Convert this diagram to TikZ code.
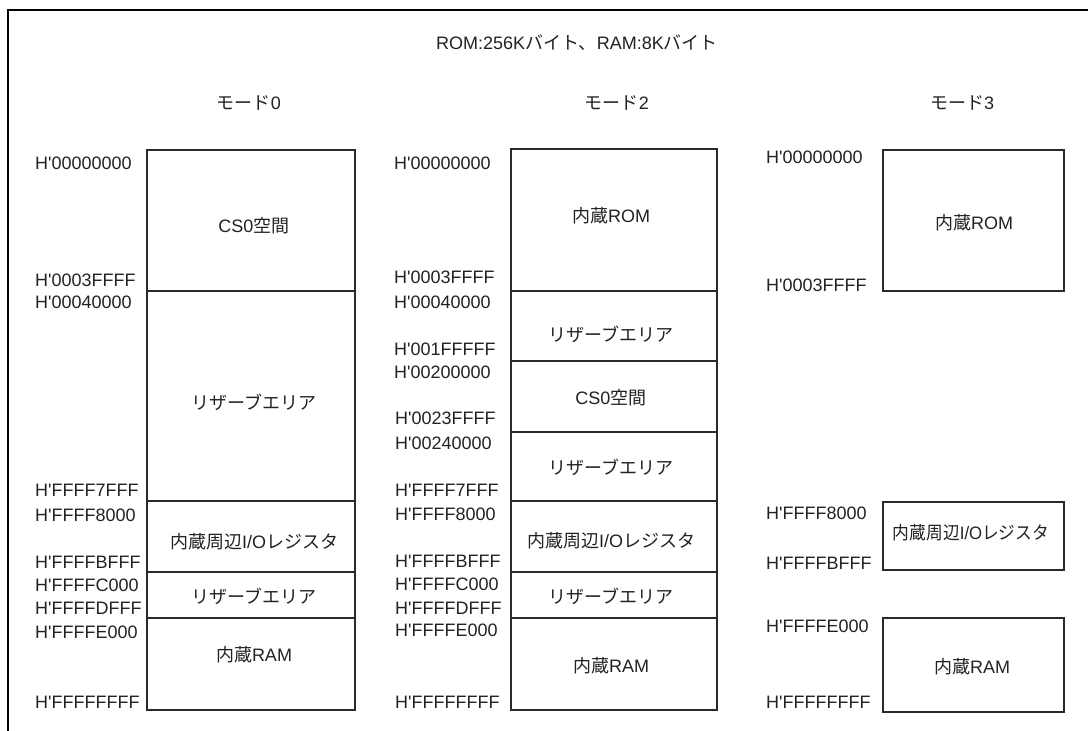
\documentclass[tikz,border=0pt]{standalone}
\usepackage{fontspec}
\usepackage{graphicx}
\setmainfont{Liberation Sans}
\newfontfamily\latinfont{Liberation Sans}
\newfontfamily\jpfont{Noto Sans CJK JP}
\newcommand{\J}[1]{{\jpfont #1}}
\definecolor{ink}{HTML}{222222}
\definecolor{edge}{HTML}{2A2A2A}
\tikzset{
  addr/.style={anchor=base west, inner sep=0pt, font=\latinfont\fontsize{18}{20}\selectfont, text=ink},
  ctext/.style={anchor=base, inner sep=0pt, font=\latinfont\fontsize{18}{20}\selectfont, text=ink},
  area/.style={draw=edge, line width=1.8pt},
  frameline/.style={draw=black, line width=2.3pt}
}
\begin{document}
\begin{tikzpicture}[x=1pt,y=-1pt]
\useasboundingbox (0,0) rectangle (1088,731);
\draw[frameline] (8,740) -- (8,10) -- (1095,10);

% titles
\node[ctext] (title) at (577,49.5) {ROM:256K\J{バイト、}RAM:8K\J{バイト}};
\node[ctext] (m0) at (249,109.5) {\J{モード}0};
\node[ctext] (m2) at (617,109.5) {\J{モード}2};
\node[ctext] (m3) at (962,109.5) {\J{モード}3};

% ---------- mode 0 ----------
\draw[area] (147,150) rectangle (355,291);
\draw[area] (147,291) rectangle (355,501);
\draw[area] (147,501) rectangle (355,572);
\draw[area] (147,572) rectangle (355,618);
\draw[area] (147,618) rectangle (355,710);
\node[ctext] (a1) at (254,232.5) {CS0\J{空間}};
\node[ctext] (a2) at (254,409.5) {\J{リザーブエリア}};
\node[ctext] (a3) at (254,548.5) {\J{内蔵周辺}I/O\J{レジスタ}};
\node[ctext] (a4) at (254,603.5) {\J{リザーブエリア}};
\node[ctext] (a5) at (254,661.5) {\J{内蔵}RAM};

\node[addr] (l01) at (35,169.5) {H'00000000};
\node[addr] (l02) at (35,286.5) {H'0003FFFF};
\node[addr] (l03) at (35,308.5) {H'00040000};
\node[addr] (l04) at (35,496.5) {H'FFFF7FFF};
\node[addr] (l05) at (35,521.5) {H'FFFF8000};
\node[addr] (l06) at (35,568.5) {H'FFFFBFFF};
\node[addr] (l07) at (35,591.5) {H'FFFFC000};
\node[addr] (l08) at (35,614.5) {H'FFFFDFFF};
\node[addr] (l09) at (35,638.5) {H'FFFFE000};
\node[addr] (l10) at (35,708.5) {H'FFFFFFFF};

% ---------- mode 2 ----------
\draw[area] (511,149) rectangle (717,291);
\draw[area] (511,291) rectangle (717,361);
\draw[area] (511,361) rectangle (717,432);
\draw[area] (511,432) rectangle (717,501);
\draw[area] (511,501) rectangle (717,572);
\draw[area] (511,572) rectangle (717,618);
\draw[area] (511,618) rectangle (717,710);
\node[ctext] (b1) at (611,222.5) {\J{内蔵}ROM};
\node[ctext] (b2) at (611,341.5) {\J{リザーブエリア}};
\node[ctext] (b3) at (611,404.5) {CS0\J{空間}};
\node[ctext] (b4) at (611,474.5) {\J{リザーブエリア}};
\node[ctext] (b5) at (611,547.5) {\J{内蔵周辺}I/O\J{レジスタ}};
\node[ctext] (b6) at (611,603.5) {\J{リザーブエリア}};
\node[ctext] (b7) at (611,672.5) {\J{内蔵}RAM};

\node[addr] (r01) at (394,169.5) {H'00000000};
\node[addr] (r02) at (394,283.5) {H'0003FFFF};
\node[addr] (r03) at (394,308.5) {H'00040000};
\node[addr] (r04) at (394,355.5) {H'001FFFFF};
\node[addr] (r05) at (394,378.5) {H'00200000};
\node[addr] (r06) at (395,424.5) {H'0023FFFF};
\node[addr] (r07) at (395,449.5) {H'00240000};
\node[addr] (r08) at (395,496.5) {H'FFFF7FFF};
\node[addr] (r09) at (395,520.5) {H'FFFF8000};
\node[addr] (r10) at (395,567.5) {H'FFFFBFFF};
\node[addr] (r11) at (395,590.5) {H'FFFFC000};
\node[addr] (r12) at (395,614.5) {H'FFFFDFFF};
\node[addr] (r13) at (395,636.5) {H'FFFFE000};
\node[addr] (r14) at (395,708.5) {H'FFFFFFFF};

% ---------- mode 3 ----------
\draw[area] (883,150) rectangle (1064,291);
\draw[area] (883,502) rectangle (1064,570);
\draw[area] (883,618) rectangle (1064,712);
\node[ctext] (c1) at (974,229.5) {\J{内蔵}ROM};
\node[ctext] (c2) at (971,539.5) {\scalebox{0.93}[1]{\J{内蔵周辺}I/O\J{レジスタ}}};
\node[ctext] (c3) at (972,673.5) {\J{内蔵}RAM};

\node[addr] (s01) at (766,163.5) {H'00000000};
\node[addr] (s02) at (766,291.5) {H'0003FFFF};
\node[addr] (s03) at (766,519.5) {H'FFFF8000};
\node[addr] (s04) at (766,569.5) {H'FFFFBFFF};
\node[addr] (s05) at (766,632.5) {H'FFFFE000};
\node[addr] (s06) at (766,708.5) {H'FFFFFFFF};
\end{tikzpicture}
\end{document}
